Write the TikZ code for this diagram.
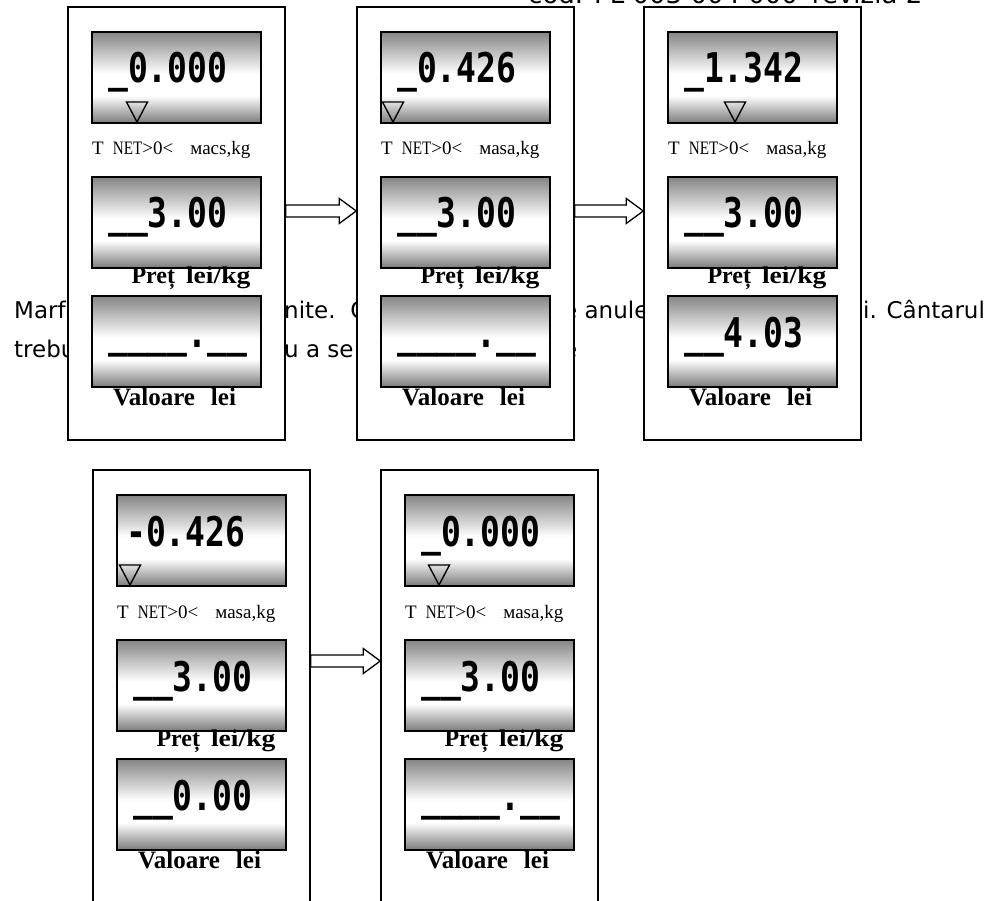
\documentclass[tikz,border=0pt]{standalone}
\usepackage{graphicx}
\usepackage{fontspec}
\setmainfont{Liberation Serif}
\newfontfamily\lcdfont{DejaVu Sans Mono}
\newfontfamily\txtfont{DejaVu Sans}
\usetikzlibrary{calc}
\pgfdeclareverticalshading{lcdshade}{100bp}{color(0bp)=(black!52); color(25bp)=(black!52); color(40bp)=(white); color(52bp)=(white); color(75bp)=(black!48); color(100bp)=(black!48)}

\begin{document}
\begin{tikzpicture}[x=1pt,y=-1pt,
    panel/.style={draw,line width=1.5pt,fill=white,minimum width=217pt,minimum height=433pt,inner sep=0pt},
    lcd/.style={draw,line width=1.5pt,shading=lcdshade,minimum width=169pt,minimum height=91pt,inner sep=0pt},
    digits/.style={inner sep=0pt,anchor=base west,font=\lcdfont\bfseries\fontsize{33}{36}\selectfont},
    masslbl/.style={inner sep=0pt,anchor=base west,font=\fontsize{19}{21}\selectfont},
    boldlbl/.style={inner sep=0pt,anchor=base,font=\bfseries\fontsize{24}{27}\selectfont},
    txt/.style={inner sep=0pt,anchor=base west,font=\txtfont\fontsize{23}{27}\selectfont},
    tri/.style={line width=1.4pt,line join=miter},
    blockarrow/.style={draw,line width=1.3pt,fill=white,line join=miter,
      to path={let \p1=(\tikztostart), \p2=(\tikztotarget) in
        (\x1,\y1+6pt) -- (\x2-17pt,\y1+6pt) -- (\x2-17pt,\y1+12.5pt) -- (\x2,\y1)
        -- (\x2-17pt,\y1-12.5pt) -- (\x2-17pt,\y1-6pt) -- (\x1,\y1-6pt) -- cycle}}]
  \useasboundingbox (0,0) rectangle (987,901);
  % text of the page behind the panels
  \node[txt,font=\txtfont\fontsize{26}{30}\selectfont] (hdr) at (528,4) {cod. PL 003 004 000\hspace{14pt}revizia 2};
  \node[txt] (t1) at (14,318) {Marfa};
  \node[txt] (t2) at (284,318) {nite.\ \ C};
  \node[txt] (t3) at (563,318) {e anule};
  \node[txt] (t4) at (863,318) {i. Cântarul};
  \node[txt] (t5) at (14,357) {trebu};
  \node[txt] (t6) at (284,357) {u a se};
  \node[txt] (t7) at (563,357) {e};
  % panels
  \foreach \nm/\px/\py/\wt/\pr/\val/\tri/\dx/\ml in {
      p1/68/7/{\_0.000}/{\_\_3.00}/{\_\_\_\_.\_\_}/45/0/{мacs},
      p2/357/7/{\_0.426}/{\_\_3.00}/{\_\_\_\_.\_\_}/12/0/{мasa},
      p3/644/7/{\_1.342}/{\_\_3.00}/{\_\_4.03}/67/0/{мasa},
      p4/93/470/{-0.426}/{\_\_3.00}/{\_\_0.00}/13/-7/{мasa},
      p5/381/470/{\_0.000}/{\_\_3.00}/{\_\_\_\_.\_\_}/34/0/{мasa}}{
    \node[panel] (\nm) at (\px+108.5,\py+216.5) {};
    \node[lcd] (\nm-w) at (\px+108.5,\py+70.5) {};
    \node[lcd] (\nm-p) at (\px+108.5,\py+215.5) {};
    \node[lcd] (\nm-v) at (\px+108.5,\py+334.5) {};
    \node[digits] (\nm-wt) at (\px+40+\dx,\py+76) {\scalebox{1}[1.24]{\wt}};
    \node[digits] (\nm-pt) at (\px+40,\py+221) {\scalebox{1}[1.24]{\pr}};
    \node[digits] (\nm-vt) at (\px+40,\py+340) {\scalebox{1}[1.24]{\val}};
    \draw[tri] (\px+24+\tri-10.5,\py+95) -- ++(21,0) -- ++(-10.5,20) -- cycle;
    \node[masslbl] (\nm-ml) at (\px+24,\py+148) {T\hspace{9pt}\scalebox{0.8}[1]{NET}>0<\hspace{17pt}\ml,kg};
    \node[boldlbl] (\nm-pl) at (\px+123,\py+276) {Preț\hspace{11pt}\scalebox{1.15}[1]{lei/kg}};
    \node[boldlbl,font=\bfseries\fontsize{25}{28}\selectfont] (\nm-vl) at (\px+106.5,\py+398) {Valoare\hspace{16pt}lei};
  }
  \draw[blockarrow] ([yshift=12.5pt]p1.east) to ([yshift=12.5pt]p2.west);
  \draw[blockarrow] ([yshift=12.5pt]p2.east) to ([yshift=12.5pt]p3.west);
  \draw[blockarrow] ([yshift=25.5pt]p4.east) to ([yshift=25.5pt]p5.west);
\end{tikzpicture}
\end{document}
